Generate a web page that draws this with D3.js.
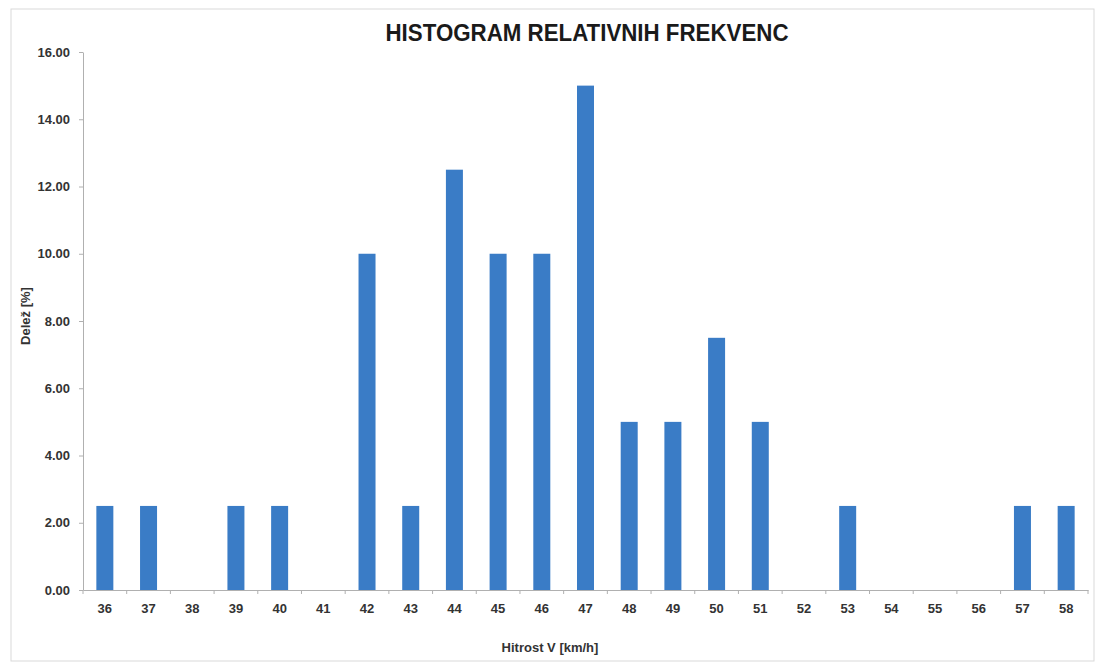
<!DOCTYPE html>
<html lang="sl">
<head>
    <meta charset="utf-8" />
    <title>Histogram relativnih frekvenc</title>
    <script src="https://d3js.org/d3.v7.min.js"></script>
    <style>
        body { margin: 0; background: #fff; }
        text { font-family: "Liberation Sans", Arial, sans-serif; fill: #333; }
        .tick text { font-size: 13px; font-weight: bold; }
        .domain, .tick line { stroke: #b0b0b0; }
    </style>
</head>
<body>
<svg width="1096" height="665"></svg>
<script>
    // hitrosti (kategorije) in delez v %
    var speeds = ["36","37","38","39","40","41","42","43","44","45","46","47",
                  "48","49","50","51","52","53","54","55","56","57","58"];
    var shares = [2.5, 2.5, 0, 2.5, 2.5, 0, 10, 2.5, 12.5, 10, 10, 15,
                  5, 5, 7.5, 5, 0, 2.5, 0, 0, 0, 2.5, 2.5];
    var yTicks = [0, 2, 4, 6, 8, 10, 12, 14, 16];

    var svg = d3.select("svg");
    var margin = {left: 83, right: 8, top: 52, bottom: 75};
    var width = +svg.attr("width"), height = +svg.attr("height");

    // chart frame
    svg.append("rect")
        .attr("x", 11).attr("y", 9)
        .attr("width", 1083).attr("height", 652)
        .attr("fill", "none").attr("stroke", "#d9d9d9");

    var x = d3.scaleBand()
        .domain(speeds)
        .range([margin.left, width - margin.right]);

    var y = d3.scaleLinear()
        .domain([0, 16])
        .range([height - margin.bottom, margin.top]);

    //bars
    var barW = 17;
    svg.append("g")
        .selectAll("rect")
        .data(speeds)
        .enter().append("rect")
            .attr("x", function (d) { return x(d) + x.bandwidth() / 2 - barW / 2; })
            .attr("y", function (d, i) { return y(shares[i]); })
            .attr("width", barW)
            .attr("height", function (d, i) { return y(0) - y(shares[i]); })
            .attr("fill", "#3a7cc6");

    //y axis
    svg.append("g")
        .attr("transform", "translate(" + margin.left + ",0)")
        .call(d3.axisLeft(y).tickValues(yTicks).tickFormat(d3.format(".2f")).tickSize(4).tickSizeOuter(0).tickPadding(9));

    //x axis, ticks between categories
    var xAxis = svg.append("g")
        .attr("transform", "translate(0," + y(0) + ")")
        .call(d3.axisBottom(x).tickSize(0).tickPadding(14));
    xAxis.selectAll(".boundary")
        .data(d3.range(speeds.length + 1))
        .enter().append("line")
            .attr("class", "boundary")
            .attr("x1", function (i) { return margin.left + i * x.step(); })
            .attr("x2", function (i) { return margin.left + i * x.step(); })
            .attr("y1", 0).attr("y2", 4)
            .attr("stroke", "#b0b0b0");

    //title and axis labels
    svg.append("text")
        .attr("x", 587).attr("y", 41)
        .attr("text-anchor", "middle")
        .attr("textLength", 403).attr("lengthAdjust", "spacingAndGlyphs")
        .style("font-size", "23px").style("font-weight", "bold").style("fill", "#1a1a1a")
        .text("HISTOGRAM RELATIVNIH FREKVENC");

    svg.append("text")
        .attr("x", 550).attr("y", 652)
        .attr("text-anchor", "middle")
        .style("font-size", "13px").style("font-weight", "bold")
        .text("Hitrost V [km/h]");

    svg.append("text")
        .attr("transform", "translate(30,316) rotate(-90)")
        .attr("text-anchor", "middle")
        .style("font-size", "13px").style("font-weight", "bold")
        .text("Delež [%]");
</script>
</body>
</html>
